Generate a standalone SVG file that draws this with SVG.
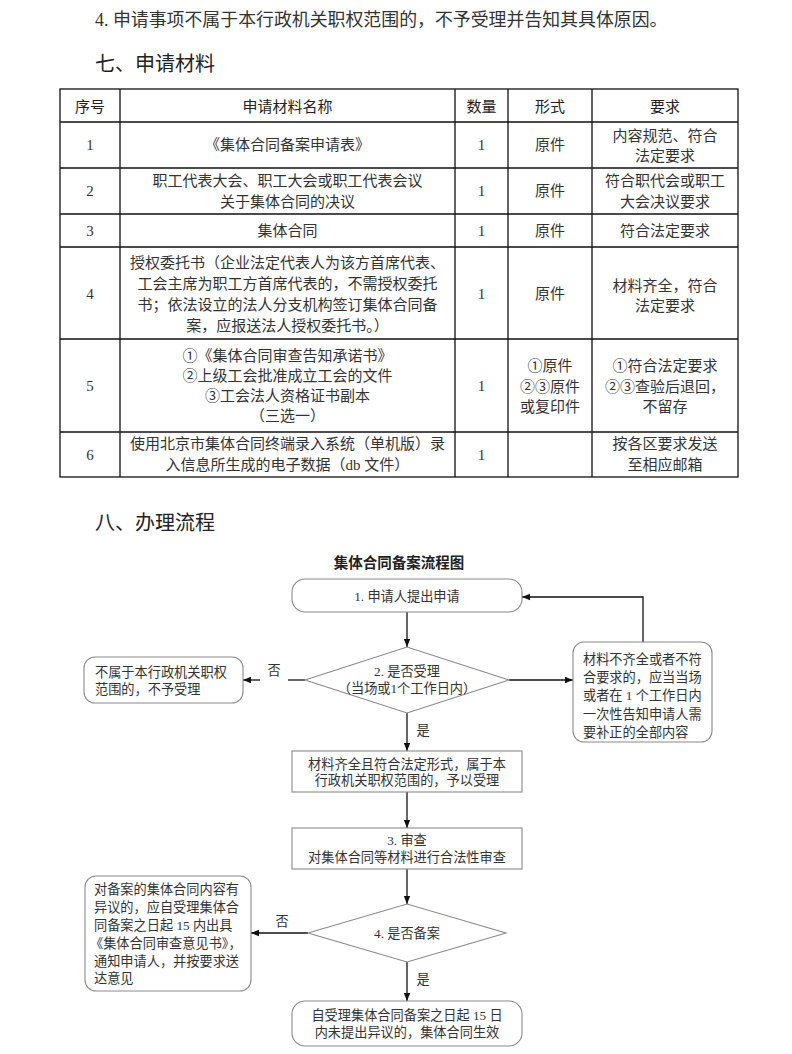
<svg xmlns="http://www.w3.org/2000/svg" width="792" height="1054" viewBox="0 0 792 1054">
<defs>
<style>
.body{font-family:"Liberation Serif","Noto Sans CJK SC",serif;fill:#333;}
.hd{font-family:"Noto Sans CJK SC","Liberation Sans",sans-serif;fill:#222;}
.t15{font-size:15px;}
.t13{font-size:13.2px;}
.c{text-anchor:middle;}
.m{dominant-baseline:central;}
.grid{stroke:#111;stroke-width:1.3;fill:none;}
.nd{fill:#fff;stroke:#8a8a8a;stroke-width:1.1;}
.cn{stroke:#111;stroke-width:1.3;fill:none;}
</style>
<marker id="ah" viewBox="0 0 10 10" refX="10" refY="5" markerWidth="8" markerHeight="8" markerUnits="userSpaceOnUse" orient="auto">
<path d="M0,1 L10,5 L0,9 Z" fill="#111"/>
</marker>
</defs>
<rect width="792" height="1054" fill="#fff"/>

<!-- intro text -->
<text class="body m" x="95" y="20" font-size="17.9">4. 申请事项不属于本行政机关职权范围的，不予受理并告知其具体原因。</text>
<text class="hd m" x="95" y="62" font-size="20">七、申请材料</text>

<!-- table -->
<g id="table">
<rect class="grid" x="60" y="89" width="678" height="388"/>
<path class="grid" d="M60,122H738M60,168H738M60,214H738M60,247H738M60,339H738M60,432H738M120,89V477M455,89V477M508,89V477M592,89V477"/>
<g class="hd t15 c m">
<text x="90" y="105.5">序号</text>
<text x="287.5" y="105.5">申请材料名称</text>
<text x="481.5" y="105.5">数量</text>
<text x="550" y="105.5">形式</text>
<text x="665" y="105.5">要求</text>
</g>
<g class="body t15 c m">
<text x="90" y="145">1</text>
<text x="287.5" y="145">《集体合同备案申请表》</text>
<text x="481.5" y="145">1</text>
<text x="550" y="145">原件</text>
<text x="665" y="136">内容规范、符合</text>
<text x="665" y="156">法定要求</text>

<text x="90" y="191">2</text>
<text x="287.5" y="181">职工代表大会、职工大会或职工代表会议</text>
<text x="287.5" y="202">关于集体合同的决议</text>
<text x="481.5" y="191">1</text>
<text x="550" y="191">原件</text>
<text x="665" y="181">符合职代会或职工</text>
<text x="665" y="202">大会决议要求</text>

<text x="90" y="230.5">3</text>
<text x="287.5" y="230.5">集体合同</text>
<text x="481.5" y="230.5">1</text>
<text x="550" y="230.5">原件</text>
<text x="665" y="230.5">符合法定要求</text>

<text x="90" y="294">4</text>
<text x="287.5" y="263">授权委托书（企业法定代表人为该方首席代表、</text>
<text x="287.5" y="284">工会主席为职工方首席代表的，不需授权委托</text>
<text x="287.5" y="305">书；依法设立的法人分支机构签订集体合同备</text>
<text x="287.5" y="326">案，应报送法人授权委托书。）</text>
<text x="481.5" y="294">1</text>
<text x="550" y="294">原件</text>
<text x="665" y="286">材料齐全，符合</text>
<text x="665" y="306">法定要求</text>

<text x="90" y="386">5</text>
<text x="287.5" y="356">①《集体合同审查告知承诺书》</text>
<text x="287.5" y="376">②上级工会批准成立工会的文件</text>
<text x="287.5" y="396">③工会法人资格证书副本</text>
<text x="287.5" y="416">（三选一）</text>
<text x="481.5" y="386">1</text>
<text x="550" y="366">①原件</text>
<text x="550" y="386.5">②③原件</text>
<text x="550" y="407">或复印件</text>
<text x="665" y="366">①符合法定要求</text>
<text x="665" y="386.5">②③查验后退回，</text>
<text x="665" y="407">不留存</text>

<text x="90" y="455">6</text>
<text x="287.5" y="444">使用北京市集体合同终端录入系统（单机版）录</text>
<text x="287.5" y="465">入信息所生成的电子数据（db 文件）</text>
<text x="481.5" y="455">1</text>
<text x="665" y="444">按各区要求发送</text>
<text x="665" y="465">至相应邮箱</text>
</g>
</g>

<text class="hd m" x="95" y="521" font-size="20">八、办理流程</text>
<text class="hd c m" x="399" y="561" font-size="14.5" font-weight="700">集体合同备案流程图</text>

<!-- connectors -->
<g id="connectors">
<path class="cn" d="M407,612V647" marker-end="url(#ah)"/>
<path class="cn" d="M305,680H288"/>
<path class="cn" d="M260,680H243" marker-end="url(#ah)"/>
<path class="cn" d="M509,680H573" marker-end="url(#ah)"/>
<path class="cn" d="M643,642V597H522" marker-end="url(#ah)"/>
<path class="cn" d="M407,713V751" marker-end="url(#ah)"/>
<path class="cn" d="M407,792V828" marker-end="url(#ah)"/>
<path class="cn" d="M407,869V904" marker-end="url(#ah)"/>
<path class="cn" d="M308,933H251" marker-end="url(#ah)"/>
<path class="cn" d="M407,962V1001" marker-end="url(#ah)"/>
<g class="body t13 c m">
<text x="274" y="670">否</text>
<text x="423" y="730">是</text>
<text x="282" y="921">否</text>
<text x="423" y="979">是</text>
</g>
</g>

<g id="n1">
<rect class="nd" x="292" y="579" width="230" height="33" rx="13"/>
<text class="body t13 c m" x="407" y="596">1. 申请人提出申请</text>
</g>
<g id="d1">
<polygon class="nd" points="305,680 407,647 509,680 407,713"/>
<text class="body t13 c m" x="407" y="671">2. 是否受理</text>
<text class="body t13 c m" x="407" y="688">（当场或1个工作日内）</text>
</g>
<g id="nLeft1">
<rect class="nd" x="84" y="657" width="159" height="46" rx="11"/>
<text class="body t13 m" x="95" y="672">不属于本行政机关职权</text>
<text class="body t13 m" x="95" y="689">范围的，不予受理</text>
</g>
<g id="nRight">
<rect class="nd" x="573" y="642" width="139" height="100" rx="11"/>
<g class="body t13 m">
<text x="583" y="659.5">材料不齐全或者不符</text>
<text x="583" y="677.7">合要求的，应当当场</text>
<text x="583" y="695.9">或者在 1 个工作日内</text>
<text x="583" y="714.1">一次性告知申请人需</text>
<text x="583" y="732.3">要补正的全部内容</text>
</g>
</g>
<g id="n2">
<rect class="nd" x="292" y="751" width="230" height="41"/>
<text class="body t13 c m" x="407" y="764">材料齐全且符合法定形式，属于本</text>
<text class="body t13 c m" x="407" y="780">行政机关职权范围的，予以受理</text>
</g>
<g id="n3">
<rect class="nd" x="292" y="828" width="230" height="41"/>
<text class="body t13 c m" x="407" y="840.5">3. 审查</text>
<text class="body t13 c m" x="407" y="857">对集体合同等材料进行合法性审查</text>
</g>
<g id="d2">
<polygon class="nd" points="308,933 407,904 506,933 407,962"/>
<text class="body t13 c m" x="407" y="933">4. 是否备案</text>
</g>
<g id="nLeft2">
<rect class="nd" x="85" y="876" width="166" height="115" rx="11"/>
<g class="body t13 m">
<text x="94" y="889">对备案的集体合同内容有</text>
<text x="94" y="907">异议的，应自受理集体合</text>
<text x="94" y="925">同备案之日起 15 内出具</text>
<text x="90" y="943">《集体合同审查意见书》，</text>
<text x="94" y="961">通知申请人，并按要求送</text>
<text x="94" y="978">达意见</text>
</g>
</g>
<g id="nEnd">
<rect class="nd" x="292" y="1001" width="230" height="45" rx="13"/>
<text class="body t13 c m" x="407" y="1015">自受理集体合同备案之日起 15 日</text>
<text class="body t13 c m" x="407" y="1032">内未提出异议的，集体合同生效</text>
</g>
</svg>
